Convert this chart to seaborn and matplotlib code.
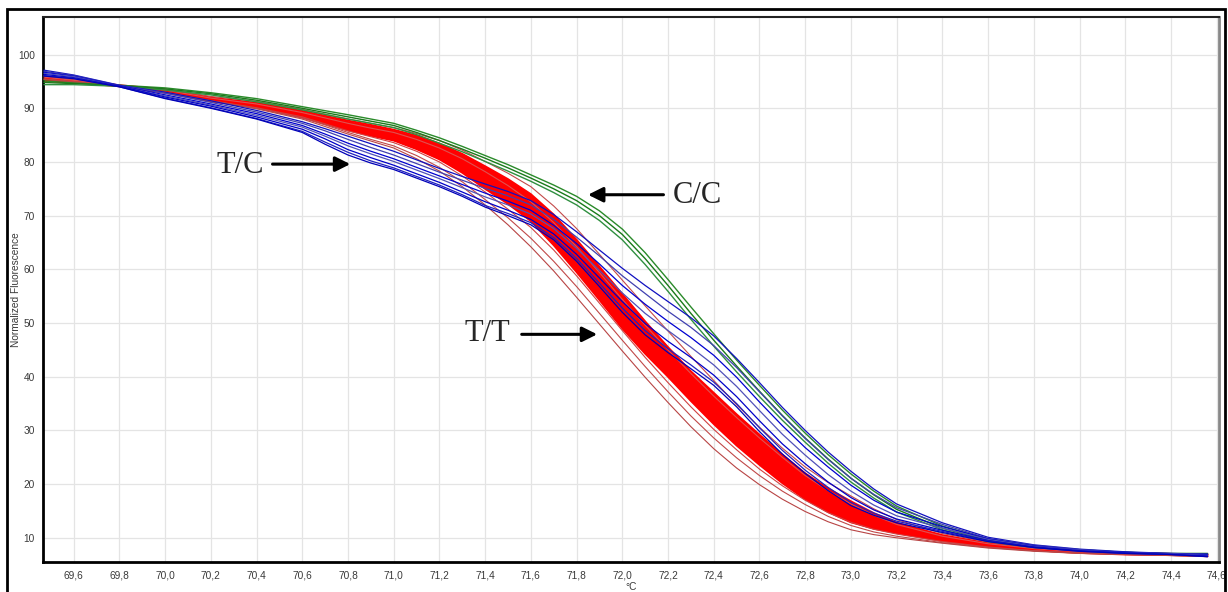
import numpy as np
import pandas as pd
import matplotlib
matplotlib.use("Agg")
import matplotlib.pyplot as plt
from matplotlib.ticker import MultipleLocator, FuncFormatter
from matplotlib.patches import Rectangle
import seaborn as sns

# ---------------- data ----------------
temps = [69.47, 69.6, 69.8, 70.0, 70.2, 70.4, 70.6, 70.7, 70.8, 70.9, 71.0, 71.1,
         71.2, 71.3, 71.4, 71.5, 71.6, 71.7, 71.8, 71.9, 72.0, 72.1, 72.2, 72.3,
         72.4, 72.5, 72.6, 72.7, 72.8, 72.9, 73.0, 73.1, 73.2, 73.4, 73.6, 73.8,
         74.0, 74.2, 74.4, 74.56]

# C/C genotype (green)
cc_1 = [95.1, 94.7, 94.3, 93.8, 92.9, 91.8, 90.3, 89.55, 88.8, 88.0, 87.2, 85.9, 84.5, 82.9, 81.2, 79.5, 77.6, 75.7, 73.6, 70.9, 67.5, 63.1, 58.1, 53.0, 48.0, 43.1, 38.4, 33.8, 29.5, 25.5, 21.9, 18.7, 15.9, 12.2, 9.7, 8.4, 7.8, 7.3, 7.1, 7.1]
cc_2 = [94.8, 94.6, 94.2, 93.6, 92.7, 91.5, 90.0, 89.2, 88.4, 87.6, 86.8, 85.5, 84.0, 82.4, 80.7, 78.9, 77.0, 75.0, 72.8, 70.0, 66.5, 62.0, 57.0, 51.8, 46.8, 42.0, 37.3, 32.8, 28.6, 24.7, 21.1, 18.0, 15.3, 11.8, 9.5, 8.3, 7.7, 7.3, 7.0, 7.0]
cc_3 = [94.4, 94.4, 94.1, 93.4, 92.5, 91.2, 89.7, 88.85, 88.0, 87.2, 86.4, 85.1, 83.5, 81.9, 80.1, 78.3, 76.4, 74.3, 72.0, 69.1, 65.5, 60.9, 55.9, 50.7, 45.7, 40.9, 36.3, 31.9, 27.8, 23.9, 20.4, 17.4, 14.8, 11.5, 9.3, 8.2, 7.6, 7.2, 7.0, 6.9]

# T/C genotype (blue)
tc_1 = [97.1, 96.2, 94.3, 93.0, 91.4, 89.6, 87.5, 86.2, 84.8, 83.4, 82.0, 80.4, 78.8, 77.3, 75.9, 74.5, 72.8, 70.2, 67.0, 63.6, 60.2, 57.0, 54.0, 51.0, 47.6, 43.4, 38.9, 34.3, 30.0, 26.0, 22.4, 19.1, 16.3, 12.8, 10.1, 8.7, 7.9, 7.4, 7.1, 7.0]
tc_2 = [96.9, 96.1, 94.25, 92.8, 91.1, 89.3, 87.2, 85.8, 84.2, 82.7, 81.3, 79.7, 78.1, 76.6, 75.1, 73.7, 72.0, 69.3, 66.0, 62.5, 58.8, 55.5, 52.2, 49.2, 45.8, 41.7, 37.2, 32.7, 28.5, 24.6, 21.1, 18.1, 15.6, 12.5, 9.9, 8.6, 7.8, 7.3, 7.1, 6.9]
tc_3 = [96.7, 96.0, 94.2, 92.5, 90.8, 89.0, 86.8, 85.2, 83.5, 82.0, 80.6, 79.0, 77.4, 75.8, 74.2, 72.7, 71.0, 68.2, 64.8, 61.0, 57.0, 53.5, 50.3, 47.3, 44.0, 39.9, 35.3, 30.9, 26.8, 23.2, 19.8, 17.0, 14.8, 12.1, 9.8, 8.5, 7.7, 7.3, 7.0, 6.8]
tc_4 = [96.5, 95.9, 94.1, 92.3, 90.6, 88.7, 86.5, 84.8, 83.0, 81.5, 80.1, 78.5, 76.9, 75.2, 73.5, 72.0, 70.3, 67.6, 63.9, 59.8, 55.6, 51.8, 48.6, 45.5, 42.2, 38.2, 33.7, 29.3, 25.4, 21.8, 18.7, 16.1, 14.1, 11.8, 9.7, 8.4, 7.7, 7.2, 7.0, 6.7]
tc_5 = [96.3, 95.7, 94.1, 92.1, 90.4, 88.4, 86.1, 84.3, 82.3, 80.8, 79.4, 77.8, 76.2, 74.4, 72.6, 71.0, 69.3, 66.6, 62.8, 58.4, 54.0, 49.9, 46.6, 43.6, 40.3, 36.3, 31.8, 27.5, 23.8, 20.4, 17.5, 15.2, 13.5, 11.4, 9.5, 8.3, 7.6, 7.2, 6.9, 6.6]
tc_6 = [96.1, 95.6, 94.0, 91.9, 90.1, 88.1, 85.7, 83.7, 81.8, 80.2, 78.9, 77.3, 75.7, 73.9, 71.9, 70.4, 68.7, 65.9, 62.0, 57.4, 52.8, 48.6, 45.2, 42.2, 39.0, 35.0, 30.5, 26.3, 22.6, 19.4, 16.6, 14.6, 13.1, 11.2, 9.4, 8.2, 7.5, 7.1, 6.9, 6.5]
tc_7 = [96.0, 95.5, 94.0, 91.8, 90.0, 88.0, 85.5, 83.3, 81.3, 79.8, 78.6, 77.0, 75.4, 73.6, 71.6, 70.0, 68.3, 65.5, 61.5, 56.8, 52.0, 47.8, 44.5, 41.5, 38.4, 34.4, 29.8, 25.6, 22.0, 18.8, 16.0, 14.2, 12.8, 11.0, 9.3, 8.2, 7.5, 7.1, 6.9, 6.5]

# T/T genotype (red): edges of the dense core band and individual thin curves
tt_core_upper = [95.9, 95.2, 94.3, 93.5, 92.0, 91.0, 89.5, 88.6, 87.7, 86.9, 86.0, 84.9, 83.4, 81.5, 79.2, 76.8, 74.0, 70.2, 65.5, 60.5, 55.4, 50.3, 45.5, 41.0, 37.0, 33.0, 29.2, 25.5, 22.0, 19.2, 16.8, 14.6, 12.8, 10.5, 9.0, 8.1, 7.5, 7.2, 7.0, 6.9]
tt_core_lower = [95.1, 94.8, 94.1, 92.9, 91.3, 90.2, 88.3, 87.1, 85.9, 84.9, 84.0, 82.4, 80.5, 78.0, 75.0, 72.2, 69.0, 64.5, 59.5, 54.3, 49.0, 44.3, 40.0, 35.5, 31.2, 27.2, 23.6, 20.2, 17.2, 14.8, 12.9, 11.7, 10.9, 9.4, 8.4, 7.7, 7.2, 6.9, 6.8, 6.6]
tt_1 = [96.0, 95.3, 94.3, 93.6, 92.2, 91.3, 89.8, 88.9, 88.0, 87.2, 86.4, 85.3, 84.0, 82.2, 80.1, 77.9, 75.4, 71.8, 67.6, 62.8, 58.0, 53.2, 48.5, 43.8, 39.3, 34.8, 30.6, 26.7, 23.2, 20.3, 17.8, 15.4, 13.4, 10.8, 9.2, 8.2, 7.6, 7.2, 7.0, 6.9]
tt_2 = [95.8, 95.2, 94.3, 93.4, 91.9, 90.8, 89.2, 88.2, 87.2, 86.3, 85.5, 84.2, 82.6, 80.6, 78.2, 75.6, 72.6, 68.7, 64.2, 59.4, 54.4, 49.6, 45.0, 40.6, 36.4, 32.4, 28.6, 25.0, 21.6, 18.8, 16.3, 14.2, 12.5, 10.3, 8.9, 8.0, 7.4, 7.1, 6.9, 6.8]
tt_3 = [95.5, 95.0, 94.2, 93.0, 91.4, 90.1, 88.4, 87.1, 85.8, 84.7, 83.6, 82.0, 80.0, 77.4, 74.4, 71.2, 67.8, 63.6, 58.8, 53.7, 48.6, 43.6, 38.9, 34.4, 30.2, 26.4, 22.8, 19.7, 17.0, 14.7, 12.9, 11.6, 10.7, 9.3, 8.3, 7.6, 7.2, 6.9, 6.8, 6.6]
tt_4 = [95.4, 94.9, 94.1, 93.0, 91.4, 90.0, 88.2, 86.9, 85.5, 84.2, 83.0, 81.2, 79.0, 76.3, 73.0, 69.6, 65.8, 61.5, 56.8, 51.8, 46.8, 41.9, 37.2, 32.7, 28.6, 24.9, 21.6, 18.7, 16.2, 14.0, 12.3, 11.1, 10.3, 9.1, 8.2, 7.6, 7.1, 6.9, 6.7, 6.5]
tt_5 = [95.4, 94.9, 94.1, 92.9, 91.3, 89.9, 88.0, 86.6, 85.2, 83.9, 82.6, 80.6, 78.3, 75.4, 72.0, 68.3, 64.2, 59.7, 54.8, 49.8, 44.8, 39.9, 35.2, 30.7, 26.6, 23.0, 19.9, 17.2, 14.9, 13.0, 11.5, 10.6, 10.0, 9.0, 8.1, 7.5, 7.1, 6.9, 6.7, 6.5]

x_ticks_step = 0.2
y_ticks_step = 10
labels = ["T/C", "C/C", "T/T"]

# ---------------- long-form tables ----------------
def frame(curves):
    rows = []
    for name, vals in curves.items():
        for t, v in zip(temps, vals):
            rows.append((name, t, v))
    return pd.DataFrame(rows, columns=["curve", "temp", "fluor"])

green_df = frame({"cc1": cc_1, "cc2": cc_2, "cc3": cc_3})
blue_df = frame({"tc1": tc_1, "tc2": tc_2, "tc3": tc_3, "tc4": tc_4,
                 "tc5": tc_5, "tc6": tc_6, "tc7": tc_7})
red_df = frame({"tt1": tt_1, "tt2": tt_2, "tt3": tt_3, "tt4": tt_4, "tt5": tt_5})
core_df = frame({"up": tt_core_upper, "lo": tt_core_lower})

# ---------------- figure ----------------
sns.set_style("white")
plt.rcParams["font.family"] = ["Liberation Sans", "DejaVu Sans"]

W, H = 1228, 592
fig = plt.figure(figsize=(W / 100, H / 100), dpi=100)
ax = fig.add_axes([43 / W, 1 - 562 / H, (1219 - 43) / W, (562 - 17) / H])

ax.grid(True, color="#e4e4e4", lw=0.9)
ax.set_axisbelow(True)

# red group
ax.fill_between(temps, tt_core_lower, tt_core_upper, color="#ff0000", lw=0, zorder=2)
sns.lineplot(data=core_df, x="temp", y="fluor", units="curve", estimator=None, sort=False,
             color="#ff0000", lw=1.4, ax=ax, legend=False, zorder=2)
sns.lineplot(data=red_df, x="temp", y="fluor", hue="curve", estimator=None, sort=False,
             palette=["#c44a4a", "#e05050", "#d04040", "#c04848", "#b84444"],
             lw=0.8, ax=ax, legend=False, zorder=3)

# green group
sns.lineplot(data=green_df, x="temp", y="fluor", hue="curve", estimator=None, sort=False,
             palette=["#2a8a2a", "#1a7a1a", "#2f8f3f"], lw=1.0, ax=ax, legend=False, zorder=4)

# blue group
sns.lineplot(data=blue_df, x="temp", y="fluor", hue="curve", estimator=None, sort=False,
             palette=["#1010c0", "#4040b0", "#0000d0", "#5050b8", "#0000c8", "#2020c0", "#0000b8"],
             lw=0.9, ax=ax, legend=False, zorder=5)

ax.set_xlim(69.466, 74.61)
ax.set_ylim(5.5, 107)
ax.xaxis.set_major_locator(MultipleLocator(x_ticks_step))
ax.yaxis.set_major_locator(MultipleLocator(y_ticks_step))
ax.xaxis.set_major_formatter(FuncFormatter(lambda v, p: f"{v:.1f}".replace(".", ",")))
ax.yaxis.set_major_formatter(FuncFormatter(lambda v, p: f"{v:.0f}"))
ax.set_yticks([t for t in ax.get_yticks() if 10 <= t <= 100])
ax.tick_params(axis="both", labelsize=7.3, colors="#3a3a3a", length=3, width=0.8,
               direction="out", pad=3)
ax.tick_params(axis="x", pad=3)

ax.set_xlabel("°C", fontsize=7.3, color="#3a3a3a")
ax.set_ylabel("Normalized Fluorescence", fontsize=7.3, color="#3a3a3a")
ax.yaxis.set_label_coords(-0.019, 0.5)
ax.xaxis.set_label_coords(0.5, -0.036)

for side in ["left", "bottom"]:
    ax.spines[side].set_color("black")
    ax.spines[side].set_linewidth(2)
ax.spines["top"].set_color("#222222")
ax.spines["top"].set_linewidth(1.5)
ax.spines["right"].set_color("#888888")
ax.spines["right"].set_linewidth(2)

# annotations
serif = ["Liberation Serif", "DejaVu Serif"]
arrow_kw = dict(arrowstyle="-|>,head_length=0.9,head_width=0.45", lw=2.2, color="black",
                shrinkA=0, shrinkB=0)
ax.text(70.33, 79.4, labels[0], fontsize=22, family=serif, ha="center", va="center", zorder=10)
ax.annotate("", xy=(70.81, 79.6), xytext=(70.47, 79.6), arrowprops=arrow_kw, zorder=10)
ax.text(72.33, 73.8, labels[1], fontsize=22, family=serif, ha="center", va="center", zorder=10)
ax.annotate("", xy=(71.85, 73.9), xytext=(72.18, 73.9), arrowprops=arrow_kw, zorder=10)
ax.text(71.41, 48.0, labels[2], fontsize=22, family=serif, ha="center", va="center", zorder=10)
ax.annotate("", xy=(71.89, 47.9), xytext=(71.56, 47.9), arrowprops=arrow_kw, zorder=10)

# outer frame
fig.patches.append(Rectangle((7 / W, -0.05), (1225 - 7) / W, 1 - 9 / H + 0.05,
                             transform=fig.transFigure, fill=False, lw=2,
                             edgecolor="black"))

fig.savefig("out.png", dpi=100)
